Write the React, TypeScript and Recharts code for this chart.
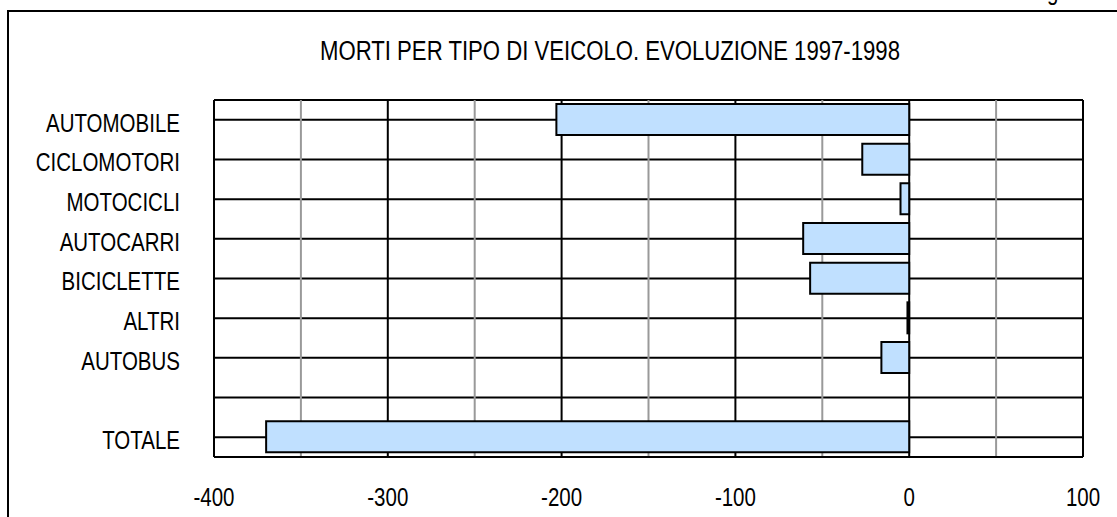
import { BarChart, Bar, XAxis, YAxis, CartesianGrid } from "recharts";

// variazione morti 1997-1998 per tipo di veicolo
const categorie = [
  "AUTOMOBILE",
  "CICLOMOTORI",
  "MOTOCICLI",
  "AUTOCARRI",
  "BICICLETTE",
  "ALTRI",
  "AUTOBUS",
  "",
  "TOTALE",
];
const variazioni = [-203, -27, -5, -61, -57, -1, -16, null, -370];
const tickPrincipali = [-400, -300, -200, -100, 0, 100];
const tickSecondari = [-350, -250, -150, -50, 50];

const font = "'Liberation Sans', Arial, sans-serif";
const stretta = 0.82; // il font originale e' "narrow"

function TickCategoria(props: any) {
  const { x, y, payload } = props;
  return (
    <text
      transform={`translate(${x},${y + 3}) scale(${stretta},1)`}
      textAnchor="end"
      dy="0.355em"
      fontSize={25}
      fontFamily={font}
      fill="#000"
    >
      {payload.value}
    </text>
  );
}

function TickValore(props: any) {
  const { x, y, payload } = props;
  if (!tickPrincipali.includes(payload.value)) return <g />;
  return (
    <text
      transform={`translate(${x},${y}) scale(${stretta},1)`}
      textAnchor="middle"
      dy="0.71em"
      fontSize={25}
      fontFamily={font}
      fill="#000"
    >
      {payload.value}
    </text>
  );
}

function LineaVerticale(props: any) {
  const { x1, y1, x2, y2, index } = props;
  return (
    <line
      x1={x1}
      y1={y1}
      x2={x2}
      y2={y2}
      stroke={index % 2 === 0 ? "#000" : "#999"}
      strokeWidth={2}
    />
  );
}

export default function App() {
  const data = categorie.map((nome, i) => ({ nome, valore: variazioni[i] }));
  const tuttiTick = [...tickPrincipali, ...tickSecondari].sort((a, b) => a - b);

  return (
    <div
      style={{
        position: "absolute",
        left: 0,
        top: 0,
        width: 1117,
        height: 517,
        overflow: "hidden",
        background: "#fff",
        fontFamily: font,
      }}
    >
      <div
        style={{
          position: "absolute",
          left: 1030,
          top: -23,
          fontSize: 25,
          whiteSpace: "nowrap",
          color: "#000",
          transform: `scaleX(${stretta})`,
          transformOrigin: "left top",
        }}
      >
        Figura 5
      </div>
      <div
        style={{
          position: "absolute",
          left: 7,
          top: 10,
          width: 1300,
          height: 700,
          border: "2px solid #000",
        }}
      />
      <div
        style={{
          position: "absolute",
          left: 210,
          top: 38,
          width: 800,
          textAlign: "center",
          fontSize: 27,
          lineHeight: "27px",
          whiteSpace: "nowrap",
          color: "#000",
          transform: `scaleX(${stretta})`,
          transformOrigin: "center top",
        }}
      >
        MORTI PER TIPO DI VEICOLO. EVOLUZIONE 1997-1998
      </div>
      <div style={{ position: "absolute", left: 0, top: 0 }}>
        <BarChart
          width={1117}
          height={517}
          data={data}
          layout="vertical"
          margin={{ top: 100, right: 34, bottom: 0, left: 0 }}
          barSize={31}
        >
          <CartesianGrid
            stroke="#000"
            strokeWidth={2}
            vertical={LineaVerticale}
          />
          <XAxis
            type="number"
            domain={[-400, 100]}
            ticks={tuttiTick}
            interval={0}
            tickLine={false}
            tickSize={0}
            tickMargin={31}
            height={60}
            axisLine={{ stroke: "#000", strokeWidth: 2 }}
            tick={<TickValore />}
          />
          <XAxis
            xAxisId="top"
            orientation="top"
            type="number"
            domain={[-400, 100]}
            height={0}
            tick={false}
            tickLine={false}
            axisLine={{ stroke: "#000", strokeWidth: 2 }}
          />
          <YAxis
            type="category"
            dataKey="nome"
            width={214}
            interval={0}
            tickLine={false}
            tickSize={0}
            tickMargin={34}
            axisLine={{ stroke: "#000", strokeWidth: 2 }}
            tick={<TickCategoria />}
          />
          <YAxis
            yAxisId="right"
            orientation="right"
            type="category"
            dataKey="nome"
            width={0}
            tick={false}
            tickLine={false}
            axisLine={{ stroke: "#000", strokeWidth: 2 }}
          />
          <Bar
            dataKey="valore"
            fill="#C0E0FF"
            stroke="#000"
            strokeWidth={2}
            isAnimationActive={false}
          />
        </BarChart>
      </div>
    </div>
  );
}
